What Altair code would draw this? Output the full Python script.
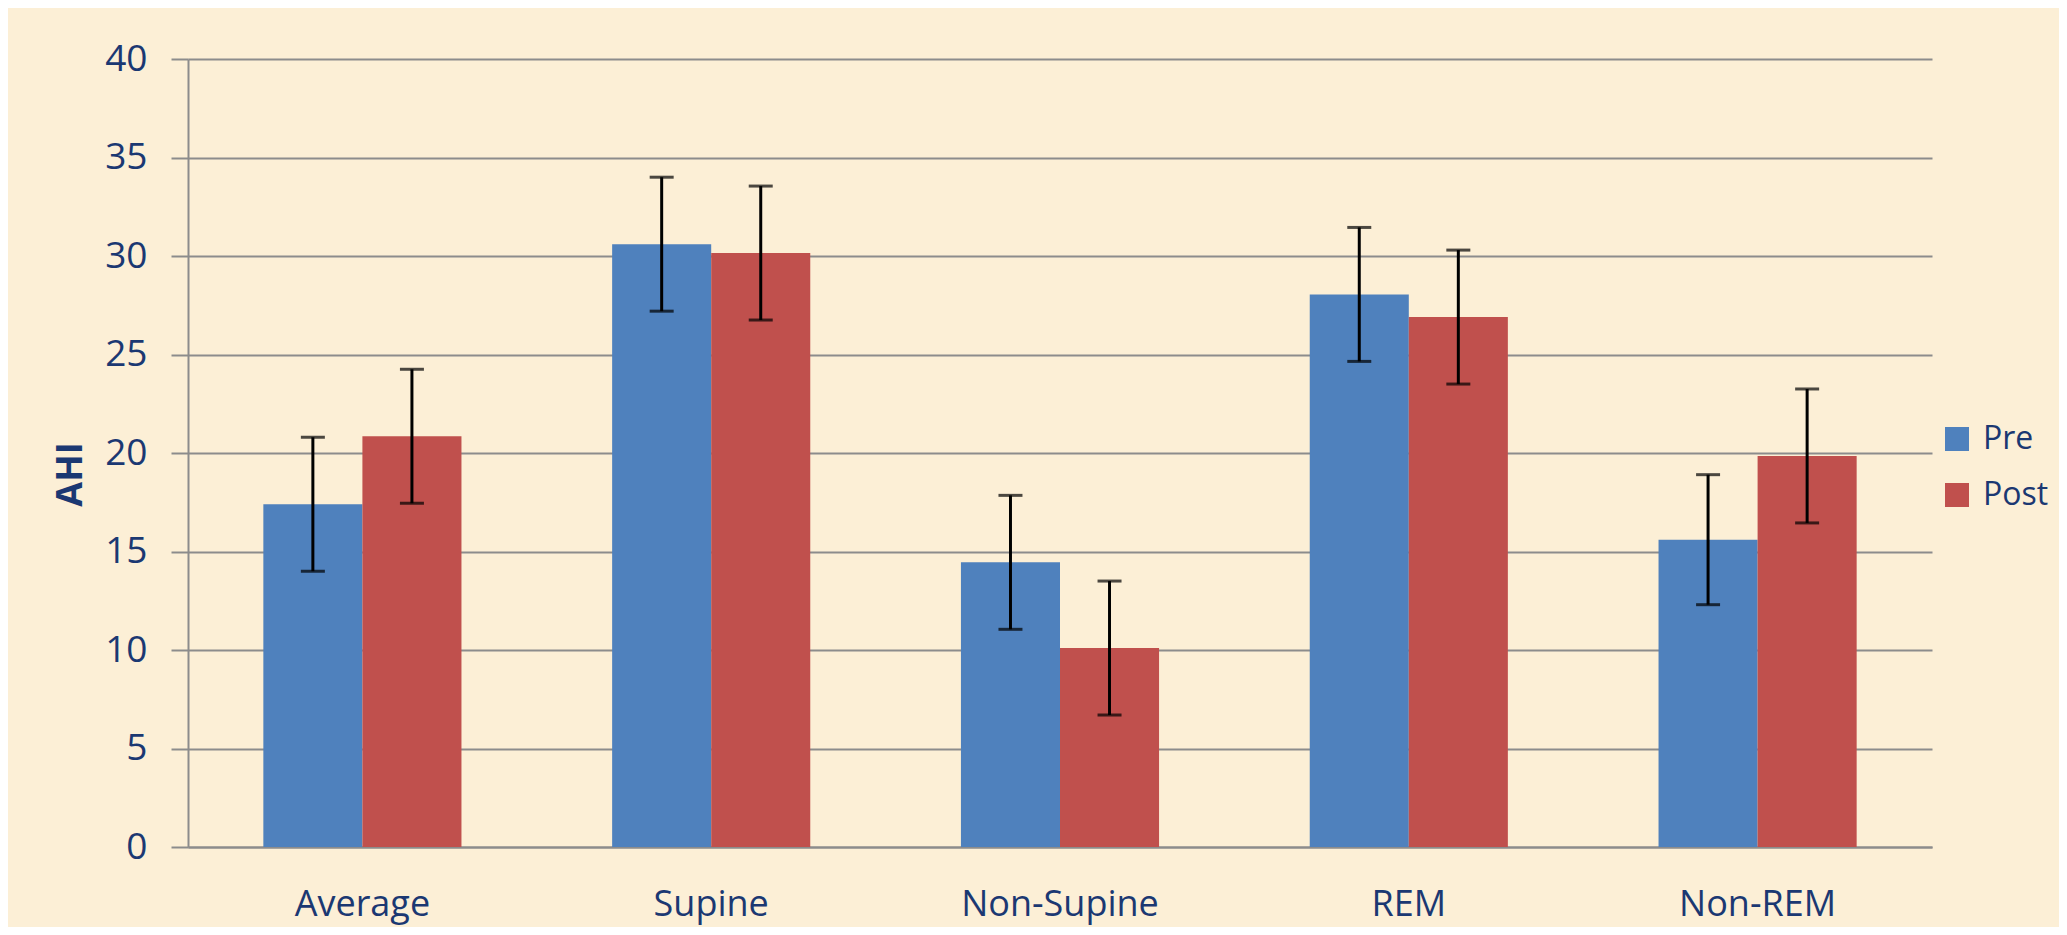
import altair as alt
import pandas as pd

categories = ["Average", "Supine", "Non-Supine", "REM", "Non-REM"]
series_names = ["Pre", "Post"]
pre_values = [17.4, 30.6, 14.45, 28.05, 15.6]
post_values = [20.85, 30.15, 10.1, 26.9, 19.85]
pre_errors = [3.4, 3.4, 3.4, 3.4, 3.3]
post_errors = [3.4, 3.4, 3.4, 3.4, 3.4]
y_ticks = [0, 5, 10, 15, 20, 25, 30, 35, 40]

rows = []
for i, c in enumerate(categories):
    for s, vals, errs in ((series_names[0], pre_values, pre_errors),
                          (series_names[1], post_values, post_errors)):
        rows.append({"category": c, "series": s, "value": vals[i],
                     "lo": vals[i] - errs[i], "hi": vals[i] + errs[i]})
df = pd.DataFrame(rows)

TEXT = "#1B3872"
GRID = "#8C8C8C"
FONT = "Open Sans"

x_axis = alt.Axis(title=None, labelAngle=0, ticks=False, grid=False,
                  labelPadding=40, labelFontSize=36, labelFont=FONT,
                  labelLimit=600, labelColor=TEXT, domainColor=GRID,
                  domainWidth=2)
x_enc = alt.X("category:N", sort=categories,
              scale=alt.Scale(paddingInner=0.432, paddingOuter=0.216),
              axis=x_axis)
xo = alt.XOffset("series:N", sort=series_names,
                 scale=alt.Scale(paddingInner=0, paddingOuter=0))

y_axis = alt.Axis(values=y_ticks, title="AHI", grid=True,
                  gridColor=GRID, gridWidth=2, domainColor=GRID,
                  domainWidth=2, tickColor=GRID, tickWidth=2,
                  tickSize=17, labelFontSize=37, labelFont=FONT,
                  labelColor=TEXT, labelPadding=24,
                  titleFont=FONT, titleFontSize=36,
                  titleFontWeight="bold", titleColor=TEXT,
                  titleAngle=270, titleX=-118, titleY=415,
                  titleAlign="center", titleBaseline="middle")
y_scale = alt.Scale(domain=[0, 40], nice=False)

bars = alt.Chart(df).mark_bar(stroke=None).encode(
    x=x_enc,
    xOffset=xo,
    y=alt.Y("value:Q", scale=y_scale, axis=y_axis, title="AHI"),
    color=alt.Color("series:N", sort=series_names,
                    scale=alt.Scale(domain=series_names,
                                    range=["#4F81BD", "#C0504D"]),
                    legend=alt.Legend(orient="none", legendX=1753,
                                      legendY=364, title=None,
                                      symbolType="square", symbolSize=576,
                                      symbolStrokeWidth=0, labelFontSize=32,
                                      labelFont=FONT, labelColor=TEXT,
                                      labelOffset=10, rowPadding=24,
                                      padding=0)),
)

rules = alt.Chart(df).mark_rule(color="black", strokeWidth=3).encode(
    x=x_enc, xOffset=xo,
    y=alt.Y("lo:Q", scale=y_scale, axis=y_axis, title="AHI"), y2="hi:Q")

ticks_lo = alt.Chart(df).mark_tick(color="black", size=24, thickness=3,
                                   orient="horizontal").encode(
    x=x_enc, xOffset=xo,
    y=alt.Y("lo:Q", scale=y_scale, axis=y_axis, title="AHI"))
ticks_hi = alt.Chart(df).mark_tick(color="black", size=24, thickness=3,
                                   orient="horizontal").encode(
    x=x_enc, xOffset=xo,
    y=alt.Y("hi:Q", scale=y_scale, axis=y_axis, title="AHI"))

chart = alt.layer(bars, rules, ticks_lo, ticks_hi).properties(
    width=1744, height=788,
    autosize=alt.AutoSizeParams(type="none"),
    padding={"left": 180, "top": 51, "right": 127, "bottom": 80},
    background="#FCEFD6",
).configure_view(strokeWidth=0)

chart.save("out.html", embed_options={"renderer": "svg", "actions": False})
